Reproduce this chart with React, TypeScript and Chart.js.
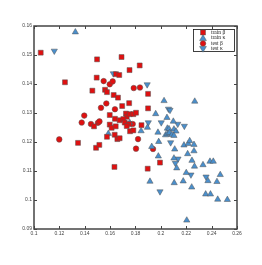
import { useEffect, useRef } from "react";
import { Chart, registerables } from "chart.js";
Chart.register(...registerables);

const seriesLabels = ["train β", "train κ", "test β", "test κ"];

const trainBetaX = [0.1053, 0.1244, 0.1497, 0.1494, 0.1646, 0.1672, 0.169, 0.1753, 0.146, 0.156, 0.1575, 0.1628, 0.1662, 0.175, 0.1695, 0.1597, 0.1725, 0.1731, 0.1755, 0.1783, 0.1804, 0.1638, 0.1675, 0.1704, 0.1473, 0.1597, 0.1612, 0.1644, 0.1715, 0.1749, 0.1731, 0.1575, 0.1636, 0.1657, 0.1675, 0.1757, 0.1783, 0.1347, 0.1489, 0.1515, 0.1634, 0.1833, 0.1899, 0.1899, 0.1847, 0.1993, 0.1896];
const trainBetaY = [0.1508, 0.1406, 0.1485, 0.1422, 0.1434, 0.1431, 0.1493, 0.1448, 0.1377, 0.138, 0.1372, 0.1362, 0.1353, 0.1334, 0.1324, 0.1293, 0.1298, 0.1287, 0.1296, 0.1296, 0.1301, 0.128, 0.1275, 0.1279, 0.1254, 0.126, 0.1249, 0.1254, 0.1267, 0.1262, 0.1255, 0.1218, 0.1225, 0.121, 0.1213, 0.1237, 0.124, 0.1197, 0.118, 0.119, 0.1114, 0.1464, 0.1366, 0.1316, 0.1258, 0.1129, 0.1108];

const trainKappaX = [0.1326, 0.1586, 0.2025, 0.2267, 0.1959, 0.2048, 0.2098, 0.1754, 0.1894, 0.1844, 0.1977, 0.2051, 0.2064, 0.2103, 0.2119, 0.2037, 0.2052, 0.2068, 0.2087, 0.2103, 0.1983, 0.1928, 0.2182, 0.2216, 0.2227, 0.2261, 0.2261, 0.2109, 0.198, 0.2211, 0.2103, 0.2125, 0.2245, 0.2265, 0.2332, 0.2387, 0.2413, 0.22, 0.2371, 0.2468, 0.2442, 0.1914, 0.2105, 0.2176, 0.2243, 0.2353, 0.2391, 0.2448, 0.2524, 0.2204];
const trainKappaY = [0.1579, 0.1229, 0.1342, 0.134, 0.1297, 0.1284, 0.1271, 0.1267, 0.125, 0.1238, 0.1233, 0.1247, 0.1245, 0.1244, 0.1237, 0.1224, 0.1228, 0.1232, 0.1225, 0.1222, 0.1201, 0.1184, 0.1189, 0.1194, 0.1204, 0.1191, 0.1169, 0.1175, 0.1151, 0.1159, 0.1144, 0.111, 0.1136, 0.1116, 0.1121, 0.1133, 0.1133, 0.1094, 0.1066, 0.1087, 0.1063, 0.1064, 0.1059, 0.1065, 0.1044, 0.102, 0.102, 0.1002, 0.1001, 0.093];

const testBetaX = [0.1549, 0.1597, 0.162, 0.157, 0.1528, 0.1638, 0.1396, 0.1376, 0.1449, 0.1504, 0.1516, 0.1199, 0.1786, 0.1835, 0.1778, 0.182, 0.1804, 0.1938];
const testBetaY = [0.141, 0.1399, 0.1409, 0.1333, 0.1318, 0.1313, 0.1291, 0.1267, 0.1262, 0.1266, 0.1271, 0.1209, 0.1386, 0.1388, 0.1262, 0.121, 0.1177, 0.1176];

const testKappaX = [0.116, 0.1625, 0.1892, 0.206, 0.2072, 0.2003, 0.2133, 0.2185, 0.1901, 0.2077, 0.2135, 0.2114, 0.2237, 0.2356, 0.1993];
const testKappaY = [0.1514, 0.1436, 0.1398, 0.1314, 0.131, 0.1267, 0.1262, 0.1255, 0.1267, 0.1198, 0.1142, 0.1127, 0.1087, 0.108, 0.1029];

const xTicks = [0.1, 0.12, 0.14, 0.16, 0.18, 0.2, 0.22, 0.24, 0.26];
const xTickLabels = ["0.1", "0.12", "0.14", "0.16", "0.18", "0.2", "0.22", "0.24", "0.26"];
const yTicks = [0.09, 0.1, 0.11, 0.12, 0.13, 0.14, 0.15, 0.16];
const yTickLabels = ["0.09", "0.1", "0.11", "0.12", "0.13", "0.14", "0.15", "0.16"];

const RED = "#e01010";
const BLUE = "#4a8fcc";

const zip = (xs: number[], ys: number[]) => xs.map((x, i) => ({ x, y: ys[i] }));

function drawMarker(ctx: CanvasRenderingContext2D, kind: number, x: number, y: number) {
  ctx.beginPath();
  if (kind === 0) {
    ctx.rect(x - 2.5, y - 2.5, 5, 5);
  } else if (kind === 2) {
    ctx.arc(x, y, 2.8, 0, Math.PI * 2);
  } else if (kind === 1) {
    ctx.moveTo(x, y - 3.2);
    ctx.lineTo(x + 3.4, y + 2.5);
    ctx.lineTo(x - 3.4, y + 2.5);
    ctx.closePath();
  } else {
    ctx.moveTo(x, y + 3.2);
    ctx.lineTo(x + 3.4, y - 2.5);
    ctx.lineTo(x - 3.4, y - 2.5);
    ctx.closePath();
  }
  ctx.fillStyle = kind % 2 === 0 ? RED : BLUE;
  ctx.fill();
  ctx.strokeStyle = "#555";
  ctx.lineWidth = 0.5;
  ctx.stroke();
}

const framePlugin = {
  id: "frame",
  afterDraw(chart: any) {
    const ctx = chart.ctx as CanvasRenderingContext2D;
    const { left, right, top, bottom } = chart.chartArea;
    const xs = chart.scales.x;
    const ys = chart.scales.y;
    ctx.save();
    ctx.strokeStyle = "#444";
    ctx.lineWidth = 1;
    ctx.beginPath();
    xTicks.forEach((v) => {
      const p = Math.round(xs.getPixelForValue(v)) + 0.5;
      ctx.moveTo(p, bottom);
      ctx.lineTo(p, bottom - 3);
      ctx.moveTo(p, top);
      ctx.lineTo(p, top + 3);
    });
    yTicks.forEach((v) => {
      const p = Math.round(ys.getPixelForValue(v)) + 0.5;
      ctx.moveTo(left, p);
      ctx.lineTo(left + 3, p);
      ctx.moveTo(right, p);
      ctx.lineTo(right - 3, p);
    });
    ctx.stroke();
    ctx.lineWidth = 1.5;
    ctx.strokeStyle = "#444";
    ctx.strokeRect(left, top, right - left, bottom - top);

    // legend
    const lx = 193.5, ly = 29.5, lw = 41, lh = 22;
    ctx.fillStyle = "#fff";
    ctx.fillRect(lx, ly, lw, lh);
    ctx.lineWidth = 0.8;
    ctx.strokeStyle = "#111";
    ctx.strokeRect(lx, ly, lw, lh);
    ctx.font = "5.5px 'Liberation Serif'";
    ctx.textBaseline = "middle";
    ctx.textAlign = "left";
    seriesLabels.forEach((lab, i) => {
      const yy = 32.5 + i * 5.5;
      drawMarker(ctx, i, 203, yy);
      ctx.fillStyle = "#222";
      ctx.fillText(lab, 211, yy);
    });
    ctx.restore();
  },
};

export default function App() {
  const ref = useRef<HTMLCanvasElement>(null);
  useEffect(() => {
    if (!ref.current) return;
    const mk = (i: number, data: any[], style: string, radius: number, rotation = 0) => ({
      label: seriesLabels[i],
      data,
      pointStyle: style,
      pointRadius: radius,
      pointRotation: rotation,
      backgroundColor: i % 2 === 0 ? RED : BLUE,
      borderColor: "#555",
      borderWidth: 0.5,
    });
    const chart = new Chart(ref.current, {
      type: "scatter",
      data: {
        datasets: [
          mk(0, zip(trainBetaX, trainBetaY), "rect", 3.5),
          mk(1, zip(trainKappaX, trainKappaY), "triangle", 3.6),
          mk(2, zip(testBetaX, testBetaY), "circle", 2.8),
          mk(3, zip(testKappaX, testKappaY), "triangle", 3.6, 180),
        ],
      },
      options: {
        animation: false,
        responsive: false,
        layout: { padding: { top: 26, right: 25, left: 0, bottom: 0 } },
        plugins: { legend: { display: false }, tooltip: { enabled: false } },
        scales: {
          x: {
            type: "linear",
            min: 0.1,
            max: 0.26,
            grid: { display: false, drawTicks: false },
            border: { display: false },
            afterBuildTicks: (s: any) => {
              s.ticks = xTicks.map((v) => ({ value: v }));
            },
            afterFit: (s: any) => {
              s.height = 36;
            },
            ticks: {
              padding: 2,
              color: "#444",
              font: { family: "'Liberation Sans'", size: 5 },
              callback: (v: any) => {
                const i = xTicks.findIndex((t) => Math.abs(t - v) < 1e-6);
                return i >= 0 ? xTickLabels[i] : "";
              },
            },
          },
          y: {
            type: "linear",
            min: 0.09,
            max: 0.16,
            grid: { display: false, drawTicks: false },
            border: { display: false },
            afterBuildTicks: (s: any) => {
              s.ticks = yTicks.map((v) => ({ value: v }));
            },
            afterFit: (s: any) => {
              s.width = 34;
            },
            ticks: {
              padding: 2,
              color: "#444",
              font: { family: "'Liberation Sans'", size: 5 },
              callback: (v: any) => {
                const i = yTicks.findIndex((t) => Math.abs(t - v) < 1e-6);
                return i >= 0 ? yTickLabels[i] : "";
              },
            },
          },
        },
      },
      plugins: [framePlugin],
    } as any);
    return () => chart.destroy();
  }, []);
  return (
    <div style={{ position: "fixed", left: 0, top: 0, width: 262, height: 265, background: "#fff" }}>
      <canvas ref={ref} width={262} height={265} />
    </div>
  );
}
